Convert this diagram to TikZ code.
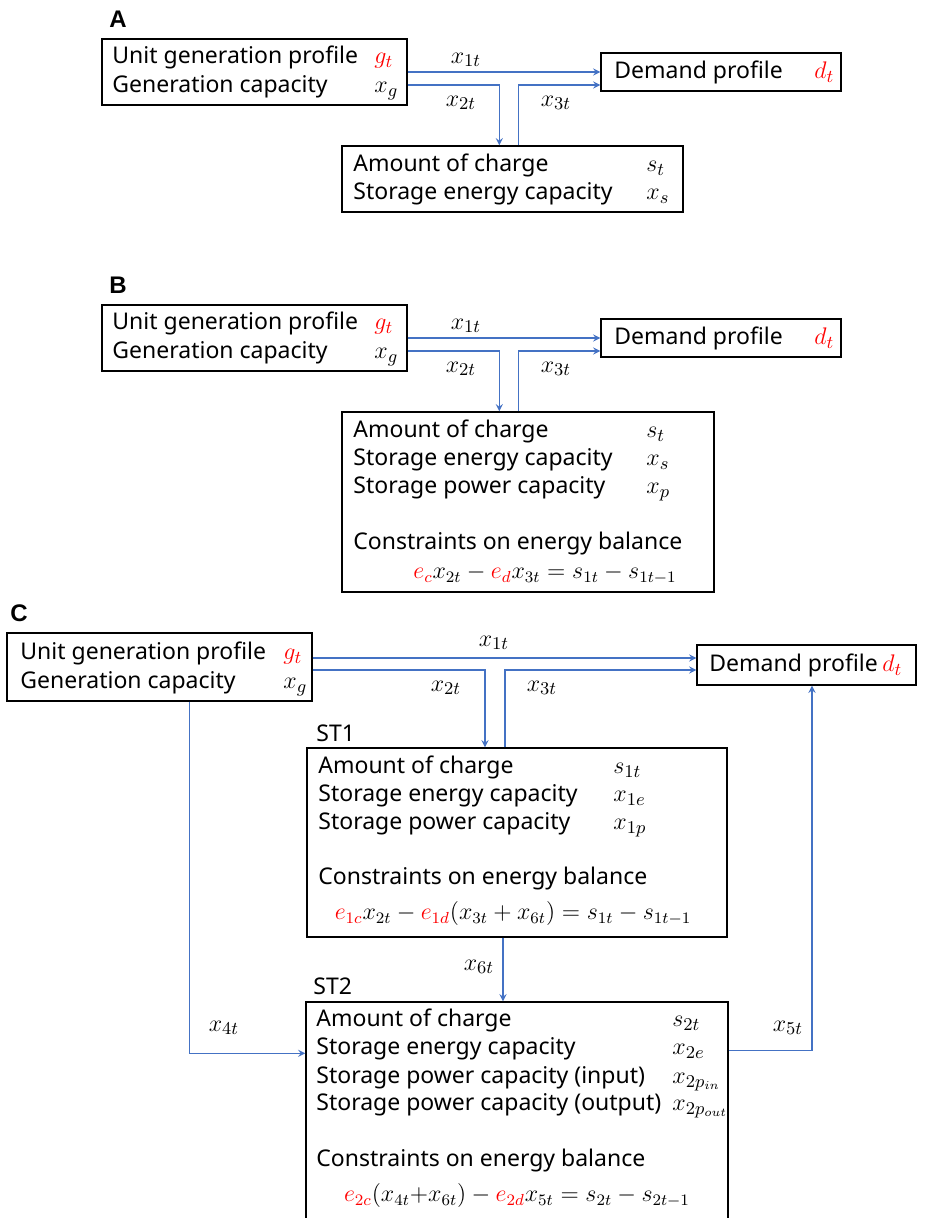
\documentclass[tikz,border=0pt]{standalone}
\usepackage{fontspec}
\setmainfont{Noto Sans}
\newfontfamily\panelfont{Liberation Sans}
\usetikzlibrary{fit}
\definecolor{flowblue}{HTML}{4472C4}
\newcommand\boxfont{\fontsize{11.5}{14}\selectfont}
\newcommand\mathfont{\fontsize{12.5}{14}\selectfont}
\tikzset{
  box/.style={draw,line width=0.7pt,inner sep=0pt},
  txt/.style={anchor=west,inner sep=0pt,font=\boxfont,text height=1.5ex,text depth=.25ex},
  var/.style={txt,font=\mathfont},
  eqn/.style={txt,anchor=center,font=\fontsize{12}{14}\selectfont},
  flowlbl/.style={inner sep=0pt,font=\mathfont},
  panel/.style={inner sep=0pt,font=\panelfont\fontsize{12}{14}\selectfont\bfseries},
  flow/.style={draw=flowblue,line width=0.6pt,>=stealth,->},
}
\begin{document}
\begin{tikzpicture}[x=0.5pt,y=-0.5pt]
\useasboundingbox (0,0) rectangle (929,1218);
\clip (0,0) rectangle (929,1218);

% panels A and B share the generator / demand part
\foreach \p/\dy/\sr/\sb in {A/0/683/212,B/266/714/592}{
  \node[panel] at (118,19+\dy) (lab\p) {\p};
  \node[box,fit={(102,39+\dy) (407,105+\dy)}] (gen\p) {};
  \node[box,fit={(601,53+\dy) (841,91+\dy)}] (dem\p) {};
  \node[box,fit={(342,146+\dy) (\sr,\sb)}] (st\p) {};
  \node[txt] at (112,57+\dy) (unit\p) {Unit generation profile};
  \node[txt] at (112,86+\dy) (gencap\p) {Generation capacity};
  \node[var] at (374,57+\dy) (gvar\p) {$\textcolor{red}{g_t}$};
  \node[var] at (374,86+\dy) (xgvar\p) {$x_g$};
  \node[txt] at (614,72+\dy) (demtxt\p) {Demand profile};
  \node[var] at (814,72+\dy) (dvar\p) {$\textcolor{red}{d_t}$};
  \node[txt] at (353,165+\dy) (charge\p) {Amount of charge};
  \node[txt] at (353,193+\dy) (energy\p) {Storage energy capacity};
  \node[var] at (646,165+\dy) (svar\p) {$s_t$};
  \node[var] at (646,193+\dy) (xsvar\p) {$x_s$};
  \node[flowlbl] at (466,60+\dy) (lone\p) {$x_{1t}$};
  \node[flowlbl] at (461,103+\dy) (ltwo\p) {$x_{2t}$};
  \node[flowlbl] at (556,103+\dy) (lthree\p) {$x_{3t}$};
  \draw[flow] (gen\p.east) -- (dem\p.west);
  \draw[flow] ([yshift=-6.5pt]gen\p.east) -| ([xshift=79pt]st\p.north west);
  \draw[flow] ([xshift=88.5pt]st\p.north west) |- ([yshift=-6.5pt]dem\p.west);
}
% extra lines of B
\node[txt] at (353,487) (powerB) {Storage power capacity};
\node[var] at (646,487) (xpvarB) {$x_p$};
\node[txt] at (353,543) (consB) {Constraints on energy balance};
\node[eqn] at (545,572) (eqB) {$\textcolor{red}{e_c}x_{2t}-\textcolor{red}{e_d}x_{3t}=s_{1t}-s_{1t-1}$};

% panel C
\node[panel] at (19,613) (labC) {C};
\node[box,fit={(7,633) (312,701)}] (genC) {};
\node[box,fit={(697,645) (916,685)}] (demC) {};
\node[box,fit={(307,748) (727,937)}] (stOne) {};
\node[box,fit={(306,1002) (728,1240)}] (stTwo) {};
\node[txt] at (20,653) (unitC) {Unit generation profile};
\node[txt] at (20,682) (gencapC) {Generation capacity};
\node[var] at (283,653) (gvarC) {$\textcolor{red}{g_t}$};
\node[var] at (283,682) (xgvarC) {$x_g$};
\node[txt] at (709,665) (demtxtC) {Demand profile};
\node[var] at (882,665) (dvarC) {$\textcolor{red}{d_t}$};

\node[txt] at (316,735) (nameOne) {ST1};
\node[txt] at (318,767) (chargeOne) {Amount of charge};
\node[txt] at (318,795) (energyOne) {Storage energy capacity};
\node[txt] at (318,823) (powerOne) {Storage power capacity};
\node[var] at (613,767) (svarOne) {$s_{1t}$};
\node[var] at (613,795) (xevarOne) {$x_{1e}$};
\node[var] at (613,823) (xpvarOne) {$x_{1p}$};
\node[txt] at (318,878) (consOne) {Constraints on energy balance};
\node[eqn] at (513,913) (eqOne) {$\textcolor{red}{e_{1c}}x_{2t}-\textcolor{red}{e_{1d}}(x_{3t}+x_{6t})=s_{1t}-s_{1t-1}$};

\node[txt] at (313,988) (nameTwo) {ST2};
\node[txt] at (316,1020) (chargeTwo) {Amount of charge};
\node[txt] at (316,1048) (energyTwo) {Storage energy capacity};
\node[txt] at (316,1077) (pinTwo) {Storage power capacity (input)};
\node[txt] at (316,1104) (poutTwo) {Storage power capacity (output)};
\node[var] at (672,1020) (svarTwo) {$s_{2t}$};
\node[var] at (672,1048) (xevarTwo) {$x_{2e}$};
\node[var] at (672,1077) (xpinTwo) {$x_{2p_{in}}$};
\node[var] at (672,1104) (xpoutTwo) {$x_{2p_{out}}$};
\node[txt] at (316,1160) (consTwo) {Constraints on energy balance};
\node[eqn] at (517,1195) (eqTwo) {$\textcolor{red}{e_{2c}}(x_{4t}{+}x_{6t})-\textcolor{red}{e_{2d}}x_{5t}=s_{2t}-s_{2t-1}$};

\node[flowlbl] at (494,643) (loneC) {$x_{1t}$};
\node[flowlbl] at (446,688) (ltwoC) {$x_{2t}$};
\node[flowlbl] at (542,688) (lthreeC) {$x_{3t}$};
\node[flowlbl] at (224,1028) (lfourC) {$x_{4t}$};
\node[flowlbl] at (788,1028) (lfiveC) {$x_{5t}$};
\node[flowlbl] at (479,967) (lsixC) {$x_{6t}$};

\draw[flow] ([yshift=4.5pt]genC.east) -- ([yshift=3.5pt]demC.west);
\draw[flow] ([yshift=-1.5pt]genC.east) -| ([xshift=-16pt]stOne.north);
\draw[flow] ([xshift=-6pt]stOne.north) |- ([yshift=-2.5pt]demC.west);
\draw[flow] ([xshift=15pt]genC.south) |- ([yshift=-26pt]stTwo.north west);
\draw[flow] ([yshift=-24.5pt]stTwo.north east) -| ([xshift=2.75pt]demC.south);
\draw[flow] ([xshift=-7pt]stOne.south) -- ([xshift=-7pt]stTwo.north);
\end{tikzpicture}
\end{document}
